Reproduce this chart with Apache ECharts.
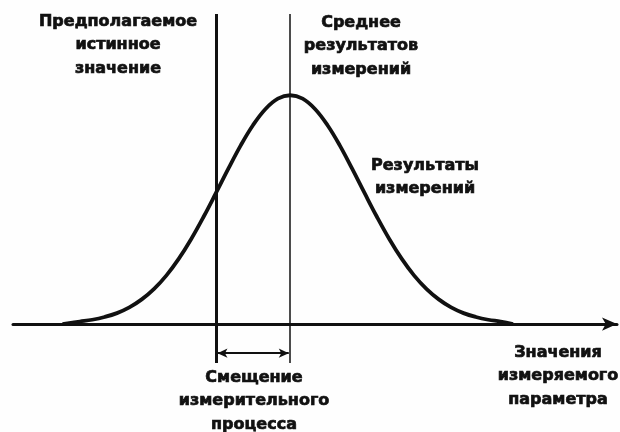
<!DOCTYPE html>
<html>
<head>
<meta charset="utf-8">
<script src="https://cdn.jsdelivr.net/npm/echarts@6/dist/echarts.min.js"></script>
<style>
  html, body { margin: 0; padding: 0; background: #fefefe; }
  #chart { width: 620px; height: 432px; }
</style>
</head>
<body>
<div id="chart"></div>
<script>
var curveX = [0.9, 1.25, 1.5, 1.75, 2, 2.25, 2.5, 2.75, 3, 3.25, 3.5, 3.75, 4, 4.25, 4.5, 4.75, 5, 5.25, 5.5,
              5.75, 6, 6.25, 6.5, 6.75, 7, 7.25, 7.5, 7.75, 8, 8.25, 8.5, 8.75, 9, 9.25, 9.5, 9.75, 10];
var curveY = [0, 0.11, 0.19, 0.31, 0.48, 0.73, 1.08, 1.54, 2.13, 2.86, 3.72, 4.69, 5.73, 6.79, 7.81, 8.7, 9.4, 9.85, 10,
              9.85, 9.4, 8.7, 7.81, 6.79, 5.73, 4.69, 3.72, 2.86, 2.13, 1.54, 1.08, 0.73, 0.48, 0.31, 0.19, 0.11, 0];
var trueValue = 4;      // предполагаемое истинное значение
var meanValue = 5.5;    // среднее результатов
var biasLevel = [-1.27]; // высота размерной линии смещения

var labels = [
  'Предполагаемое\nистинное\nзначение',
  'Среднее\nрезультатов\nизмерений',
  'Результаты\nизмерений',
  'Смещение\nизмерительного\nпроцесса',
  'Значения\nизмеряемого\nпараметра'
];

var chart = echarts.init(document.getElementById('chart'));

var font = { fontFamily: '"DejaVu Sans", sans-serif', fontWeight: 'bold', fontSize: 16, lineHeight: 23.5,
             fill: '#111', stroke: '#111', lineWidth: 0.7, align: 'center', verticalAlign: 'top' };
function label(text, x, y) {
  return { type: 'text', x: x, y: y, style: Object.assign({ text: text }, font), silent: true };
}

var option = {
  backgroundColor: '#fefefe',
  animation: false,
  grid: { left: 13, right: 3, top: 14, bottom: 69 },
  xAxis: {
    type: 'value', min: -0.1, max: 12.1,
    axisLine: { show: true, onZero: true, symbol: ['none', 'arrow'], symbolSize: [10, 15], symbolOffset: [0, 0],
                lineStyle: { color: '#111', width: 3 } },
    axisTick: { show: false }, axisLabel: { show: false }, splitLine: { show: false }
  },
  yAxis: {
    type: 'value', min: -1.7, max: 13.55, show: false
  },
  series: [
    {
      type: 'line',
      data: curveX.map(function (x, i) { return [x, curveY[i]]; }),
      smooth: 0.4,
      symbol: 'none',
      lineStyle: { color: '#111', width: 3.8 },
      markLine: {
        silent: true, symbol: 'none', animation: false,
        label: { show: false },
        data: [
          { xAxis: trueValue, lineStyle: { color: '#111', width: 3, type: 'solid' } },
          { xAxis: meanValue, lineStyle: { color: '#111', width: 1.5, type: 'solid' } }
        ]
      }
    },
    {
      type: 'line',
      data: [],
      markLine: {
        silent: true, animation: false,
        symbol: ['arrow', 'arrow'], symbolSize: [7, 10],
        label: { show: false },
        lineStyle: { color: '#111', width: 2, type: 'solid' },
        data: [[{ coord: [trueValue + 0.03, biasLevel[0]] }, { coord: [meanValue - 0.03, biasLevel[0]] }]]
      }
    }
  ],
  graphic: [
    label(labels[0], 118, 10),
    label(labels[1], 361, 11),
    label(labels[2], 425, 154),
    label(labels[3], 254, 366),
    label(labels[4], 558, 341)
  ]
};

chart.setOption(option);
</script>
</body>
</html>
